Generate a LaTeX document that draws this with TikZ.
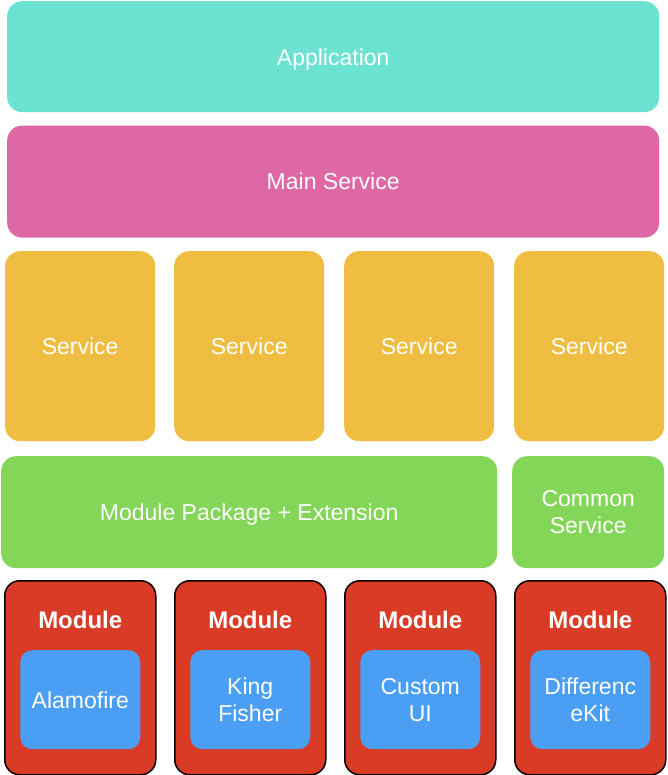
\documentclass[tikz,border=0pt]{standalone}
\usepackage{fontspec}
\setmainfont{Liberation Sans}
\usepackage{tikz}
\usetikzlibrary{positioning}
\usepackage{xcolor}
\definecolor{appteal}{HTML}{6CE3D1}
\definecolor{mainpink}{HTML}{DE68A5}
\definecolor{svcyellow}{HTML}{EFBD42}
\definecolor{pkggreen}{HTML}{83D658}
\definecolor{modred}{HTML}{D93B26}
\definecolor{libblue}{HTML}{4A9FF5}
\tikzstyle{layer} = [rounded corners=15pt, text=white, inner sep=0pt, align=center, text depth=0pt]
\tikzstyle{svcbox} = [layer, fill=svcyellow, minimum width=150pt, minimum height=190pt, anchor=north west]
\tikzstyle{pkgbox} = [layer, fill=pkggreen, minimum height=112pt, anchor=north west]
\tikzstyle{modbox} = [layer, fill=modred, draw=black, line width=1.5pt, minimum width=151pt, minimum height=194pt, anchor=north west,
  label={[anchor=center, yshift=-40pt, text=white, font={\bfseries\fontsize{24}{28}\selectfont}]north:Module}]
\tikzstyle{libbox} = [layer, rounded corners=12pt, fill=libblue, minimum width=120pt, minimum height=99pt]

\begin{document}
\begin{tikzpicture}[x=1pt, y=-1pt, font={\fontsize{23}{27}\selectfont}]
  \useasboundingbox (0,0) rectangle (667,775);
  \node[layer, fill=appteal, minimum width=652pt, minimum height=111pt, anchor=north west] (app) at (7,1) {Application};
  \node[layer, fill=mainpink, minimum width=652pt, minimum height=112pt, below=13pt of app] (main) {Main Service};
  \node[svcbox] (svc1) at (5,251) {Service};
  \node[svcbox] (svc2) at (174,251) {Service};
  \node[svcbox] (svc3) at (344,251) {Service};
  \node[svcbox] (svc4) at (514,251) {Service};
  \node[pkgbox, minimum width=496pt] (pkg) at (1,456) {Module Package + Extension};
  \node[pkgbox, minimum width=152pt] (common) at (512,456) {Common\\Service};
  \node[modbox] (mod1) at (4,580) {};
  \node[modbox] (mod2) at (174,580) {};
  \node[modbox] (mod3) at (344,580) {};
  \node[modbox] (mod4) at (514,580) {};
  \node[libbox, below=70pt of mod1.north] (lib1) {Alamofire};
  \node[libbox, below=70pt of mod2.north] (lib2) {King\\Fisher};
  \node[libbox, below=70pt of mod3.north] (lib3) {Custom\\UI};
  \node[libbox, below=70pt of mod4.north] (lib4) {Differenc\\eKit};
\end{tikzpicture}
\end{document}
